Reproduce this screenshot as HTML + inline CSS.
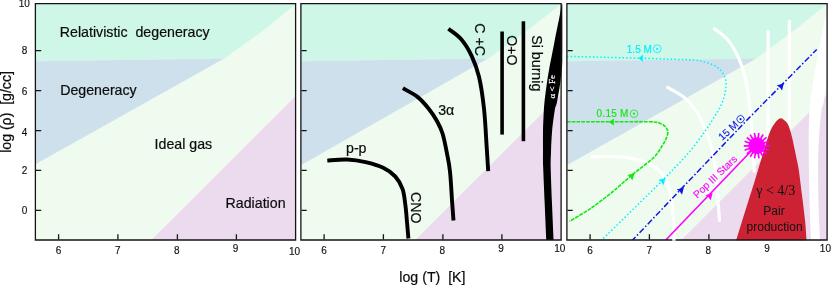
<!DOCTYPE html>
<html><head><meta charset="utf-8"><style>
html,body{margin:0;padding:0;background:#fff;}
svg{display:block;font-family:"Liberation Sans",sans-serif;will-change:transform;}
.t{font-size:10px;fill:#111;stroke:#111;stroke-width:0.15px;text-anchor:middle}
.l{font-size:14.2px;fill:#0c0c0c;stroke:#0c0c0c;stroke-width:0.2px}
</style></head><body>
<svg width="831" height="285" viewBox="0 0 831 285">
<defs>
<g id="bg1">
<rect x="35.4" y="3.6" width="260.2" height="236.4" fill="#eefbee"/>
<polygon points="35.4,3.6 295.6,3.6 295.6,3.9 264.1,30 224.2,58.5 35.4,61.3" fill="#cef7e8"/>
<polygon points="35.4,61.3 224.2,58.5 35.4,164.2" fill="#cfe0ed"/>
<polygon points="151.5,240 295.6,96.2 295.6,240" fill="#ecdaee"/>
</g>
<g id="bg2">
<rect x="35.4" y="3.6" width="260.2" height="236.4" fill="#eefbee"/>
<polygon points="35.4,3.6 295.6,3.6 295.6,3.9 262.5,30 222.6,58.5 35.4,61.3" fill="#cef7e8"/>
<polygon points="35.4,61.3 222.6,58.5 35.4,165.3" fill="#cfe0ed"/>
<polygon points="149.9,240 295.6,94.60000000000001 295.6,240" fill="#ecdaee"/>
</g>
<g id="bg3">
<rect x="35.4" y="3.6" width="260.2" height="236.4" fill="#eefbee"/>
<polygon points="35.4,3.6 295.6,3.6 295.6,3.9 263.1,30 224.7,58.5 35.4,61.3" fill="#cef7e8"/>
<polygon points="35.4,61.3 224.7,58.5 35.4,165.3" fill="#cfe0ed"/>
<polygon points="149.9,240 295.6,94.60000000000001 295.6,240" fill="#ecdaee"/>
</g>

<g id="fr">
<path d="M35.4,3.65H295.6V240H35.4Z" fill="none" stroke="#151515" stroke-width="1.3"/>
</g>
<g id="tk">
<path d="M36,50.7h5.2M36,90.6h5.2M36,130.6h5.2M36,170.4h5.2M36,210.3h5.2M58.6,239.6v-5.4M117.9,239.6v-5.4M177.4,239.6v-5.4M236.4,239.6v-5.4" stroke="#151515" stroke-width="1.3" fill="none"/>
</g>
<g id="tl">
<text class="t" x="58.6" y="254.2">6</text>
<text class="t" x="117.9" y="254.2">7</text>
<text class="t" x="176.7" y="253.9">8</text>
<text class="t" x="235.5" y="252.2">9</text>
</g>
<g id="cvb">
<path d="M61.8,160.6C65.1,160.4 75.1,159.2 81.5,159.5C87.9,159.8 94.1,160.7 100.1,162.1C106.1,163.5 112.7,165.4 117.7,167.8C122.7,170.2 126.7,173.1 129.9,176.6C133.1,180.1 135.3,184.2 137.0,188.9C138.7,193.6 139.1,199.1 139.8,204.6C140.6,210.1 141.0,216.5 141.5,222.2C142.0,227.8 142.7,235.8 142.9,238.5" fill="none" stroke-width="3.9"/>
<path d="M137.4,88.2C139.8,89.7 147.7,93.5 152.0,96.9C156.3,100.3 159.9,104.6 163.2,108.7C166.5,112.8 169.3,117.1 171.6,121.3C173.9,125.5 175.5,128.6 177.2,134.0C178.8,139.4 180.3,147.3 181.5,153.6C182.7,159.9 183.6,163.3 184.5,171.6C185.4,179.9 186.1,195.0 186.7,203.2C187.3,211.3 187.8,217.6 188.0,220.5" fill="none" stroke-width="3.9"/>
<path d="M182.9,28.8C185.0,30.5 191.6,34.5 195.5,39.0C199.4,43.5 203.1,49.5 206.1,55.8C209.1,62.1 211.4,68.0 213.5,76.8C215.6,85.6 217.2,96.9 218.5,108.6C219.8,120.3 220.5,136.8 221.2,147.2C221.9,157.6 222.4,167.2 222.7,171.2" fill="none" stroke-width="3.9"/>
<path d="M236.6,31.5V134.6" fill="none" stroke-width="3.6"/>
<path d="M257.9,21.3V141.2" fill="none" stroke-width="3.6"/>
<path d="M296.2,4.0C295.9,5.7 295.2,10.0 294.5,14.0C293.8,18.0 292.6,23.7 291.7,28.0C290.8,32.3 290.2,35.3 289.3,40.0C288.4,44.7 287.1,51.7 286.2,56.0C285.4,60.3 285.0,61.8 284.2,66.0C283.5,70.2 282.6,75.0 281.7,81.0C280.8,87.0 279.6,96.3 279.0,102.0C278.4,107.7 278.4,110.2 278.1,115.0C277.9,119.8 277.6,124.8 277.5,131.0C277.4,137.2 277.5,145.8 277.5,152.0C277.5,158.2 277.4,159.8 277.7,168.0C278.0,176.2 278.6,189.5 279.1,201.5C279.6,213.5 280.5,233.6 280.8,240.0L288.1,240.0C287.8,233.6 286.9,213.5 286.4,201.5C285.9,189.5 285.4,176.2 285.2,168.0C285.1,159.8 285.3,158.2 285.5,152.0C285.7,145.8 286.0,138.0 286.6,131.0C287.2,124.0 288.5,114.8 289.3,110.0C290.1,105.2 290.6,106.8 291.5,102.0C292.4,97.2 294.1,88.0 295.0,81.0C295.9,74.0 296.5,72.8 296.8,60.0C297.1,47.2 296.8,13.3 296.8,4.0Z" stroke="none"/>
</g>
<g id="cvw" stroke-linecap="round">
<path d="M60.1,156.6C65.8,156.7 84.3,156.0 94.1,157.3C103.9,158.6 112.3,161.1 118.7,164.3C125.1,167.5 129.3,171.6 132.7,176.6C136.1,181.6 137.5,187.7 139.0,194.1C140.5,200.5 140.8,207.8 141.5,215.2C142.2,222.6 142.9,234.6 143.2,238.5" fill="none" stroke-width="3.2"/>
<path d="M136.1,87.4C138.7,89.0 147.2,92.9 151.9,96.8C156.6,100.7 160.8,105.5 164.5,111.0C168.2,116.5 171.4,123.7 174.0,130.0C176.6,136.3 178.6,142.1 180.3,149.0C182.1,155.9 183.4,162.6 184.5,171.6C185.6,180.6 186.1,195.0 186.7,203.2C187.3,211.3 187.8,217.6 188.0,220.5" fill="none" stroke-width="3.2"/>
<path d="M182.9,28.8C185.0,30.5 191.6,34.5 195.5,39.0C199.4,43.5 203.1,49.5 206.1,55.8C209.1,62.1 211.4,68.0 213.5,76.8C215.6,85.6 217.2,96.9 218.5,108.6C219.8,120.3 220.5,136.8 221.2,147.2C221.9,157.6 222.4,167.2 222.7,171.2" fill="none" stroke-width="3.2"/>
<path d="M236.6,31.5V134.6" fill="none" stroke-width="3.3"/>
<path d="M257.9,21.3V141.2" fill="none" stroke-width="3.3"/>
<path d="M296.2,4.0C295.9,5.7 295.2,10.0 294.5,14.0C293.8,18.0 292.6,23.7 291.7,28.0C290.8,32.3 290.2,35.3 289.3,40.0C288.4,44.7 287.1,51.7 286.2,56.0C285.4,60.3 285.0,61.8 284.2,66.0C283.5,70.2 282.6,75.0 281.7,81.0C280.8,87.0 279.4,96.3 278.7,102.0C278.0,107.7 278.1,110.2 277.8,115.0C277.6,119.8 277.3,124.8 277.2,131.0C277.1,137.2 277.2,145.8 277.2,152.0C277.2,158.2 277.3,159.8 277.4,168.0C277.5,176.2 277.7,189.5 278.0,201.5C278.3,213.5 279.2,233.6 279.5,240.0L288.5,240.0C288.2,233.6 287.3,213.5 287.0,201.5C286.7,189.5 286.6,176.2 286.6,168.0C286.6,159.8 286.7,158.2 286.9,152.0C287.1,145.8 287.5,138.0 288.0,131.0C288.5,124.0 289.3,114.8 290.0,110.0C290.7,105.2 291.4,106.8 292.2,102.0C293.0,97.2 294.2,88.0 295.0,81.0C295.8,74.0 296.5,72.8 296.8,60.0C297.1,47.2 296.8,13.3 296.8,4.0Z" stroke="none"/>
</g>
</defs>
<rect width="831" height="285" fill="#fff"/>
<use href="#bg1"/><use href="#bg2" x="265.5"/><use href="#bg3" x="531.5"/>

<g transform="translate(531.5,0)" stroke="#fff" fill="#fff"><use href="#cvw"/></g>
<g transform="translate(265.5,0)" stroke="#000" fill="#000"><use href="#cvb"/></g>

<use href="#tk"/><use href="#tk" x="265.5"/><use href="#tk" x="531.5"/>
<path d="M736.2,240.3C737.2,236.9 740.3,226.7 742.4,220.0C744.5,213.3 746.8,206.1 748.7,200.0C750.6,193.9 752.3,188.8 754.0,183.3C755.7,177.8 757.2,172.5 758.9,167.0C760.6,161.5 762.5,155.4 764.0,150.5C765.5,145.6 766.8,140.9 767.9,137.5C769.0,134.1 769.6,132.5 770.8,130.0C772.0,127.5 773.7,124.5 775.3,122.5C776.9,120.5 778.8,118.4 780.5,118.2C782.2,118.0 784.4,120.2 785.8,121.6C787.2,123.0 788.0,124.2 789.0,126.8C790.0,129.4 791.1,133.5 792.1,137.4C793.1,141.3 793.9,145.8 794.8,150.0C795.7,154.2 796.7,159.3 797.4,162.6C798.1,165.9 798.1,164.9 798.8,170.0C799.5,175.1 800.7,184.5 801.7,193.0C802.8,201.5 804.3,213.1 805.1,221.0C805.9,228.9 806.3,237.1 806.5,240.3Z" fill="#cc2233"/>
<path d="M567.0,121.8C574.2,121.8 596.2,121.8 610.0,121.8C623.8,121.8 641.5,121.5 650.0,121.8C658.5,122.1 658.2,122.6 661.0,123.7C663.8,124.8 665.5,126.8 666.6,128.4C667.7,130.0 667.9,131.3 667.8,133.2C667.7,135.0 666.7,137.5 665.8,139.5C664.9,141.5 664.6,142.0 662.6,145.0C660.6,148.0 658.8,152.5 653.7,157.5C648.6,162.5 639.0,169.2 632.0,175.0C625.0,180.8 618.5,187.0 611.6,192.6C604.7,198.2 597.6,203.6 590.6,208.4C583.6,213.2 573.0,219.2 569.5,221.4" fill="none" stroke="#14e814" stroke-width="1.6" stroke-dasharray="3.8,1"/>
<path d="M567.0,56.4C572.5,56.5 587.8,56.9 600.0,57.2C612.2,57.5 628.3,57.9 640.0,58.2C651.7,58.5 660.9,58.9 670.0,59.2C679.1,59.5 688.5,59.5 694.6,60.1C700.8,60.7 703.2,61.5 706.9,62.6C710.6,63.8 714.1,65.2 716.7,67.0C719.4,68.8 721.2,70.7 722.8,73.2C724.3,75.7 725.6,78.7 726.0,81.8C726.4,84.9 726.0,87.9 725.3,91.6C724.6,95.3 723.5,99.6 721.6,103.9C719.8,108.2 717.1,112.5 714.2,117.2C711.3,121.9 708.5,126.3 704.4,132.0C700.3,137.7 694.6,145.7 689.7,151.6C684.8,157.5 679.4,162.8 674.9,167.6C670.4,172.4 674.7,168.3 662.5,180.4C650.3,192.5 611.9,230.1 601.8,240.0" fill="none" stroke="#00f0ff" stroke-width="1.5" stroke-dasharray="1.5,2.2"/>
<path d="M816.7,49.5L748.6,118.4L676,194.4L632.7,240" fill="none" stroke="#1414e6" stroke-width="1.5" stroke-dasharray="6,2.2,1.5,2.2" stroke-dashoffset="1"/>
<path d="M665.8,240L756,146" fill="none" stroke="#ff00ff" stroke-width="1.6"/>
<path d="M756.7,145.7L758.9,133.0M756.7,145.7L763.1,134.5M756.7,145.7L766.5,137.4M756.7,145.7L768.8,141.2M756.7,145.7L769.6,145.6M756.7,145.7L768.8,150.1M756.7,145.7L766.6,153.9M756.7,145.7L763.2,156.8M756.7,145.7L759.0,158.4M756.7,145.7L754.5,158.4M756.7,145.7L750.3,156.9M756.7,145.7L746.9,154.0M756.7,145.7L744.6,150.2M756.7,145.7L743.8,145.8M756.7,145.7L744.6,141.3M756.7,145.7L746.8,137.5M756.7,145.7L750.2,134.6M756.7,145.7L754.4,133.0" stroke="#ff00ff" stroke-width="1.7" fill="none"/>
<circle cx="756.7" cy="145.7" r="8.4" fill="#ff00ff"/>
<path d="M638.6,58.2L643.0,54.4L642.6,58.2L643.0,62.0Z" fill="#00f0ff"/>
<path d="M608.7,122.0L614.1,118.4L613.5,122.0L614.1,125.6Z" fill="#14e814"/>
<path d="M634.7,173.3L632.3,180.5L630.4,177.2L627.3,175.0Z" fill="#14e814"/>
<path d="M665.6,178.0L663.5,185.3L661.5,182.1L658.3,180.1Z" fill="#00f0ff"/>
<path d="M683.9,187.4L682.0,194.7L679.9,191.6L676.7,189.6Z" fill="#1414e6"/>
<path d="M783.9,83.2L782.0,90.5L779.9,87.4L776.7,85.4Z" fill="#1414e6"/>
<path d="M712.6,193.0L710.7,200.3L708.6,197.2L705.4,195.2Z" fill="#ff00ff"/>

<use href="#fr"/><use href="#fr" x="265.5"/><use href="#fr" x="531.5"/>
<path d="M672.2,238.5h3.4v2.3h-3.4z" fill="#fff" opacity="0.92"/>
<use href="#tl"/><use href="#tl" x="265.5"/><use href="#tl" x="531.5"/>
<text class="t" x="294.5" y="255.1">10</text>
<text class="t" x="559.7" y="252">10</text>
<text class="t" x="825.4" y="252">10</text>

<g class="t">
<text x="24.2" y="7.3">10</text>
<text x="24.5" y="54.3">8</text>
<text x="24.5" y="94.5">6</text>
<text x="24.5" y="136">4</text>
<text x="24.5" y="174">2</text>
<text x="24.5" y="214">0</text>
</g>
<text class="l" transform="translate(10.6,152.8) rotate(-90)" style="font-size:14.1px">log (ρ)&#160;&#160;[g/cc]</text>
<text class="l" x="399.3" y="282">log (T)&#160;&#160;[K]</text>

<text class="l" x="59.8" y="36.6" style="white-space:pre">Relativistic  degeneracy</text>
<text class="l" x="60.2" y="95.4">Degeneracy</text>
<text class="l" x="154.6" y="149">Ideal gas</text>
<text class="l" x="225.6" y="208">Radiation</text>

<text class="l" x="346" y="152.6">p-p</text>
<text class="l" x="438.2" y="114.6">3α</text>
<text class="l" transform="translate(410.8,192) rotate(90)">CNO</text>
<text class="l" transform="translate(474.7,23.3) rotate(90)">C +C</text>
<text class="l" transform="translate(506.7,35.3) rotate(90)">O+O</text>
<text class="l" transform="translate(532,35.3) rotate(90)">Si burnig</text>
<text transform="translate(554.6,98.4) rotate(-90)" style="font-family:'Liberation Serif',serif;font-size:9px;fill:#fff;stroke:#fff;stroke-width:0.2px">α &lt; Fe</text>

<text x="626.7" y="52.5" textLength="25.2" style="font-size:10px;fill:#00f0ff;stroke:#00f0ff;stroke-width:0.2px">1.5 M</text><circle cx="657.2" cy="48.8" r="3.9" fill="none" stroke="#00f0ff" stroke-width="0.8"/><circle cx="657.2" cy="48.8" r="1.1" fill="#00f0ff"/>
<text x="596.6" y="117.4" textLength="31.7" style="font-size:10px;fill:#14e814;stroke:#14e814;stroke-width:0.2px">0.15 M</text><circle cx="634" cy="113.7" r="3.8" fill="none" stroke="#14e814" stroke-width="0.8"/><circle cx="634" cy="113.7" r="1.1" fill="#14e814"/>
<g transform="translate(722.2,141.1) rotate(-43)"><text x="0" y="0" style="font-size:10.3px;fill:#1414e6;stroke:#1414e6;stroke-width:0.15px">15 M</text><circle cx="28.4" cy="-3.6" r="3.6" fill="none" stroke="#1414e6" stroke-width="0.8"/><circle cx="28.4" cy="-3.6" r="1.1" fill="#1414e6"/></g>
<text transform="translate(697.2,198.7) rotate(-43.6)" style="font-size:10.25px;fill:#ff00ff;stroke:#ff00ff;stroke-width:0.12px">Pop III Stars</text>
<text x="775.7" y="195" text-anchor="middle" style="font-family:'Liberation Serif',serif;font-size:14px;fill:#111">γ &lt; 4/3</text>
<text x="774" y="215.2" text-anchor="middle" style="font-size:12px;fill:#111">Pair</text>
<text x="774.6" y="230.5" text-anchor="middle" style="font-size:12px;fill:#111">production</text>
</svg>
</body></html>
